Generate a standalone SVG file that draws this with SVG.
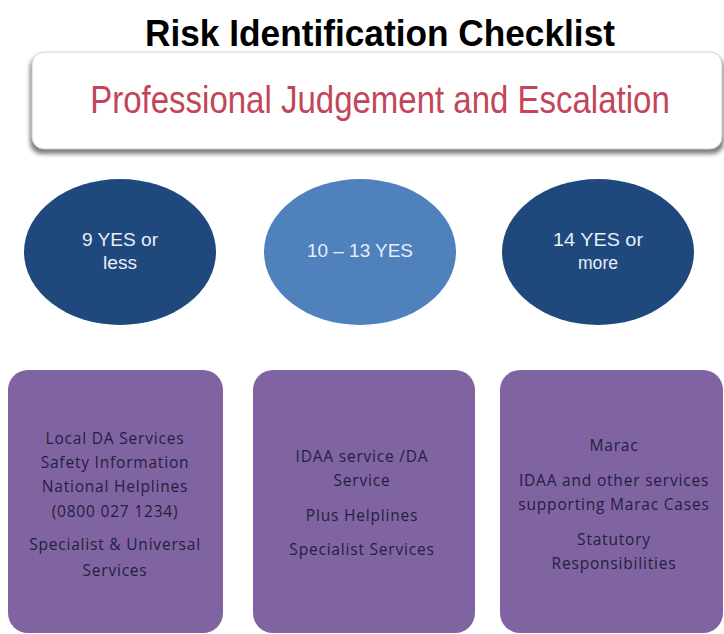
<svg xmlns="http://www.w3.org/2000/svg" width="724" height="634" viewBox="0 0 724 634">
  <defs>
    <filter id="shadow" x="-5%" y="-20%" width="110%" height="150%">
      <feGaussianBlur stdDeviation="2"/>
    </filter>
  </defs>
  <style>
    .title { font-family: "Liberation Sans", Arial, sans-serif; font-weight: bold; font-size: 36px; fill: #000; }
    .banner-text { font-family: "Liberation Sans", Arial, sans-serif; font-size: 33px; fill: #c2455a; }
    .circle-dark { fill: #1f497d; }
    .circle-light { fill: #4f81bd; }
    .circle-text { font-family: "Liberation Sans", Arial, sans-serif; font-size: 18px; fill: #e8eef8; text-anchor: middle; }
    .box { fill: #8064a2; }
    .box-text { font-family: "Open Sans", "Liberation Sans", sans-serif; font-size: 15.5px; letter-spacing: 0.8px; fill: #23203f; text-anchor: middle; }
  </style>
  <rect width="724" height="634" fill="#ffffff"/>

  <!-- heading -->
  <text class="title" x="380" y="46" text-anchor="middle" textLength="470" lengthAdjust="spacingAndGlyphs">Risk Identification Checklist</text>

  <!-- banner -->
  <g id="banner">
    <rect x="30" y="56" width="694" height="98" rx="12" fill="#7f7f7f" filter="url(#shadow)"/>
    <rect x="32" y="52" width="690" height="97" rx="12" fill="#ffffff" stroke="#d0d0d0" stroke-width="1"/>
    <text class="banner-text" transform="translate(380 113) scale(1 1.15)" x="0" y="0" text-anchor="middle">Professional Judgement  and Escalation</text>
  </g>

  <!-- score bands -->
  <g id="band-low">
    <ellipse class="circle-dark" cx="120" cy="252" rx="96" ry="73"/>
    <text class="circle-text" x="120" y="246" textLength="76" lengthAdjust="spacingAndGlyphs">9 YES or</text>
    <text class="circle-text" x="120" y="269" textLength="34" lengthAdjust="spacingAndGlyphs">less</text>
  </g>
  <g id="band-mid">
    <ellipse class="circle-light" cx="360" cy="252" rx="96" ry="73"/>
    <text class="circle-text" x="360" y="257" textLength="106" lengthAdjust="spacingAndGlyphs">10 – 13 YES</text>
  </g>
  <g id="band-high">
    <ellipse class="circle-dark" cx="598" cy="252" rx="96" ry="73"/>
    <text class="circle-text" x="598" y="246" textLength="90" lengthAdjust="spacingAndGlyphs">14 YES  or</text>
    <text class="circle-text" x="598" y="269" textLength="40" lengthAdjust="spacingAndGlyphs">more</text>
  </g>

  <!-- responses -->
  <g id="response-low">
    <rect class="box" x="8" y="370" width="215" height="263" rx="20"/>
    <text class="box-text" x="115" y="444">Local DA Services</text>
    <text class="box-text" x="115" y="468">Safety Information</text>
    <text class="box-text" x="115" y="492">National  Helplines</text>
    <text class="box-text" x="115" y="517">(0800  027 1234)</text>
    <text class="box-text" x="115" y="550">Specialist &amp; Universal</text>
    <text class="box-text" x="115" y="576">Services</text>
  </g>
  <g id="response-mid">
    <rect class="box" x="253" y="370" width="222" height="263" rx="20"/>
    <text class="box-text" x="362" y="462">IDAA service /DA</text>
    <text class="box-text" x="362" y="486">Service</text>
    <text class="box-text" x="362" y="521">Plus Helplines</text>
    <text class="box-text" x="362" y="555">Specialist Services</text>
  </g>
  <g id="response-high">
    <rect class="box" x="500" y="370" width="223" height="263" rx="20"/>
    <text class="box-text" x="614" y="451">Marac</text>
    <text class="box-text" x="614" y="486">IDAA and other services</text>
    <text class="box-text" x="614" y="510">supporting  Marac Cases</text>
    <text class="box-text" x="614" y="545">Statutory</text>
    <text class="box-text" x="614" y="569">Responsibilities</text>
  </g>

  <g id="connectors"></g>
</svg>
